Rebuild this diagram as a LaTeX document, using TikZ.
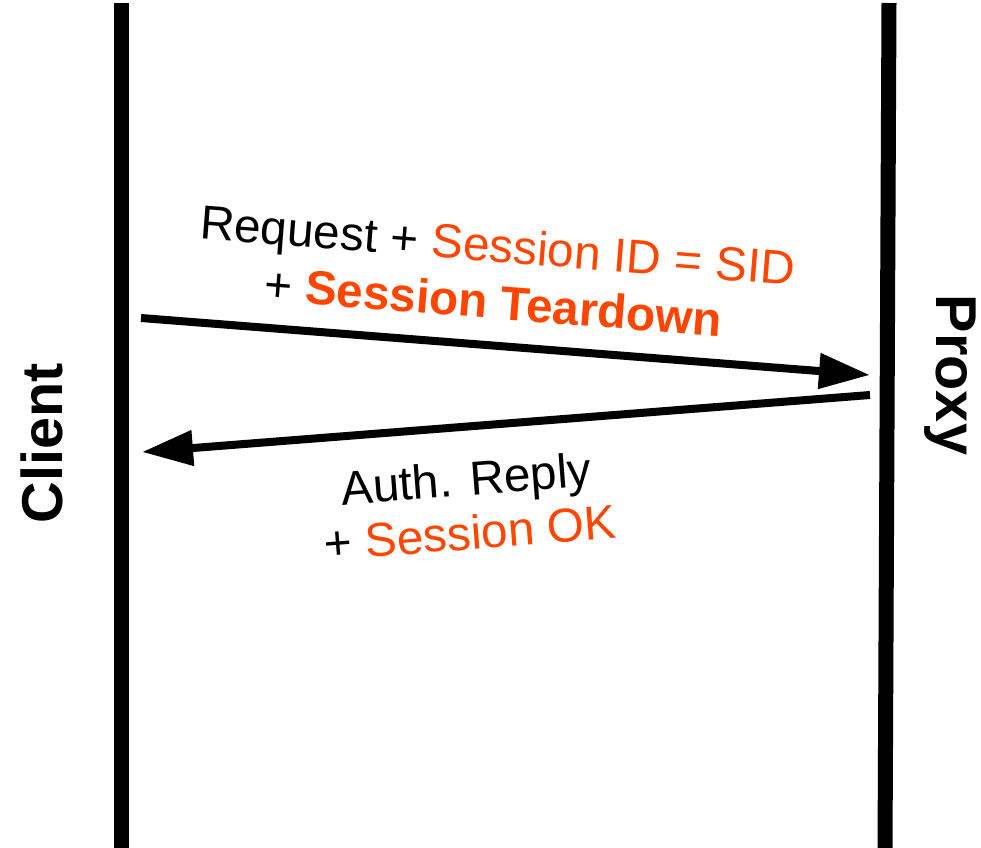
\documentclass[tikz,border=0pt]{standalone}
\usepackage{fontspec}
\setmainfont{Liberation Sans}
\usetikzlibrary{arrows.meta}
\definecolor{accent}{HTML}{FF4500}
\begin{document}
\begin{tikzpicture}[x=0.5pt,y=-0.5pt,
  lifeline/.style={line width=7.5pt},
  msg/.style={line width=4pt,-{Triangle[length=25.5pt,width=17pt]}},
  msgtext/.style={inner sep=0pt,anchor=base,font=\fontsize{23.85pt}{28pt}\selectfont},
  actor/.style={inner sep=0pt,anchor=base,font=\fontsize{28.8pt}{34pt}\selectfont\bfseries}]
\useasboundingbox (0,0) rectangle (981,847);

% lifelines
\coordinate (client-top) at (121,3);
\coordinate (client-bot) at (121,852);
\coordinate (proxy-top) at (889,3);
\coordinate (proxy-bot) at (885,852);
\draw[lifeline] (client-top) -- (client-bot);
\draw[lifeline] (proxy-top) -- (proxy-bot);

% actor names
\node[actor,rotate=90] (client) at (62,443) {Client};
\node[actor,rotate=-90] (proxy) at (936,375) {Proxy};

% request message
\coordinate (req-from) at (141,318);
\coordinate (req-to) at (870,375);
\draw[msg] (req-from) -- (req-to);
\node[msgtext,rotate=-4.5] (req-a) at (496.5,262)
  {Request + \textcolor{accent}{Session ID = SID}};
\node[msgtext,rotate=-4.5] (req-b) at (492,318.5)
  {+ \textcolor{accent}{\bfseries Session Teardown}};

% reply message
\coordinate (rep-from) at (870,395);
\coordinate (rep-to) at (142,452);
\draw[msg] (rep-from) -- (rep-to);
\node[msgtext,rotate=4.5] (rep-a) at (467.5,495.4) {Auth. Reply};
\node[msgtext,rotate=4.5] (rep-b) at (471.5,549.3)
  {+ \textcolor{accent}{Session OK}};
\end{tikzpicture}
\end{document}
